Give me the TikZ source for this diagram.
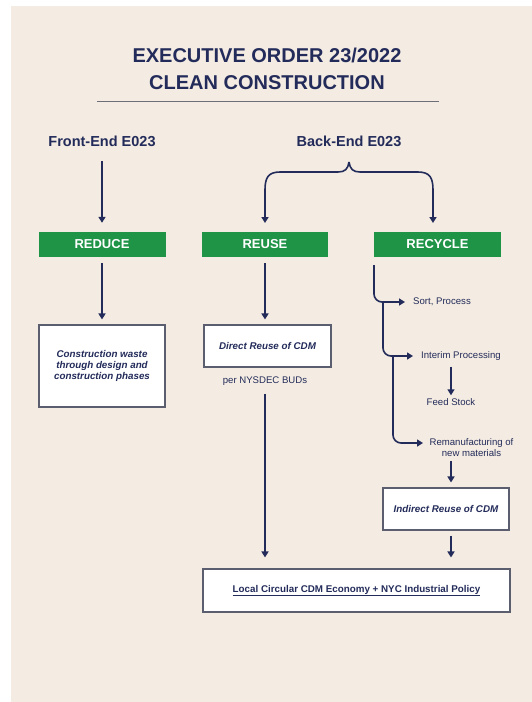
\documentclass[tikz,border=0pt]{standalone}
\usepackage{fontspec}
\setmainfont{Liberation Sans}
\usetikzlibrary{arrows.meta,shadows}
\definecolor{navy}{HTML}{232B5A}
\definecolor{beige}{HTML}{F4ECE2}
\definecolor{egreen}{HTML}{1F9447}
\definecolor{boxline}{HTML}{5A5E6E}
\definecolor{rulegray}{HTML}{6E6E7A}
\begin{document}
\begin{tikzpicture}[x=1pt,y=-1pt,
  arr/.style={draw=navy,line width=1.6pt,-{Triangle[length=6pt,width=7pt]}},
  gbox/.style={fill=egreen,text=white,font=\bfseries\fontsize{13}{14}\selectfont,minimum height=25pt,inner sep=0pt},
  wbox/.style={draw=boxline,line width=1.1pt,fill=white,
    drop shadow={opacity=0.18,shadow xshift=0.9pt,shadow yshift=-0.9pt,fill=black},
    font=\bfseries\itshape\fontsize{9.8}{10.8}\selectfont,text=navy,align=center,inner sep=0pt},
  small/.style={text=navy,font=\fontsize{9.6}{10.5}\selectfont,inner sep=0pt},
  head/.style={text=navy,font=\bfseries\fontsize{14.5}{16}\selectfont,inner sep=0pt},
  title/.style={text=navy,font=\bfseries\fontsize{20}{27}\selectfont,align=center,inner sep=0pt}
]
\useasboundingbox (0,0) rectangle (532,702);
\fill[white] (0,0) rectangle (532,702);
\fill[beige] (11,6) rectangle (532,702);

% title
\node[title] (ttl) at (267,68.5) {EXECUTIVE ORDER 23/2022\\CLEAN CONSTRUCTION};
\draw[rulegray,line width=1pt] (97,101) -- (439,101);

% headings
\node[head] (front) at (102,141.5) {Front-End E023};
\node[head] (back) at (349,141.5) {Back-End E023};

% green boxes
\node[gbox,minimum width=127pt] (reduce) at (102,244.5) {REDUCE};
\node[gbox,minimum width=126pt] (reuse) at (265,244.5) {REUSE};
\node[gbox,minimum width=127pt] (recycle) at (437.5,244.5) {RECYCLE};

% white boxes
\node[wbox,minimum width=126pt,minimum height=82pt] (waste) at (102,366)
  {Construction waste\\through design and\\construction phases};
\node[wbox,minimum width=127pt,minimum height=42pt] (direct) at (267.5,346) {Direct Reuse of CDM};
\node[small] (bud) at (265,381) {per NYSDEC BUDs};
\node[wbox,minimum width=126pt,minimum height=42pt] (indirect) at (446,509) {Indirect Reuse of CDM};
\node[wbox,minimum width=307pt,minimum height=43pt,font=\bfseries\fontsize{9.8}{11}\selectfont] (economy) at (356.5,590.5)
  {\underline{Local Circular CDM Economy + NYC Industrial Policy}};

% recycle side texts
\node[small,anchor=west] (sort) at (413,302) {Sort, Process};
\node[small,anchor=west] (interim) at (421,356) {Interim Processing};
\node[small] (feed) at (451,402) {Feed Stock};
\node[small,align=center] (reman) at (471.5,447.5) {Remanufacturing of\\new materials};

% front-end arrow
\draw[arr] ([yshift=-14pt]front.south) -- ([yshift=9pt]reduce.north);

% back-end brace
\coordinate (peak) at (349,162);
\coordinate (lleg) at (265,223);
\coordinate (rleg) at (433,223);
\draw[arr] (peak) .. controls (348,169) and (345,172) .. (338,172) -- (280,172)
  .. controls (268,172) and (265,178) .. (265,190) -- (lleg);
\draw[arr] (peak) .. controls (350,169) and (353,172) .. (360,172) -- (418,172)
  .. controls (430,172) and (433,178) .. (433,190) -- (rleg);

% reduce / reuse
\draw[arr] ([yshift=-6pt]reduce.south) -- ([yshift=5pt]waste.north);
\draw[arr] ([yshift=-6pt]reuse.south) -- ([yshift=5pt]reuse.south |- direct.north);
\draw[arr] ([yshift=-8pt]bud.south) -- ([yshift=11pt]bud.south |- economy.north);

% recycle branches
\coordinate (r0) at (374,265);
\coordinate (b1) at (383,302);
\coordinate (b2) at (393,356);
\coordinate (rt) at (423,443);
\draw[arr,rounded corners=8pt] (r0) |- ([xshift=-8pt]sort.west);
\draw[arr,rounded corners=8pt] (b1) |- ([xshift=-8pt]interim.west);
\draw[arr,rounded corners=8pt] (b2) |- (rt);
\draw[arr] ([yshift=-6pt]feed.north |- interim.south) -- ([yshift=3pt]feed.north);
\draw[arr] ([yshift=-5pt]feed.south |- reman.south) -- ([yshift=5pt]feed.south |- indirect.north);
\draw[arr] ([yshift=-5pt]feed.south |- indirect.south) -- ([yshift=11pt]feed.south |- economy.north);
\end{tikzpicture}
\end{document}
